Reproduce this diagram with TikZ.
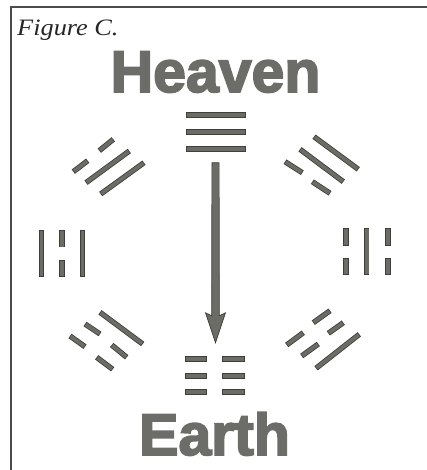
\documentclass[tikz,border=0pt]{standalone}
\usepackage{fontspec}
\setmainfont{Liberation Serif}
\newfontfamily\boldsans{Liberation Sans Bold}[FakeBold=3]
\usetikzlibrary{calc}
\definecolor{barfill}{RGB}{108,108,102}
\definecolor{barout}{RGB}{62,62,58}
\definecolor{wordgray}{RGB}{108,108,104}
\definecolor{framegray}{RGB}{75,75,72}
\begin{document}
\begin{tikzpicture}[x=1pt,y=-1pt,
  bar/.style={line width=5.4pt, draw=barout, postaction={draw=barfill, line width=3.8pt, shorten <=0.8pt, shorten >=0.8pt}},
  word/.style={inner sep=0pt, anchor=base, text=wordgray, font=\boldsans\fontsize{59}{60}\selectfont},
  tri/.style={inner sep=0pt, draw=none}]
\useasboundingbox (0,0) rectangle (427,470);
\draw[framegray, line width=2pt] (427,7) -- (11,7) -- (11,470);
\node[anchor=base west, inner sep=0pt, text=black!85, font=\itshape\fontsize{23.5}{25}\selectfont] (title) at (17,36) {\scalebox{1.12}[1]{Figure C.}};
\node[word] (heaven) at (215.5,92) {Heaven};
\node[word] (earth) at (214.5,455) {Earth};
% Heaven trigram
\node[tri, minimum width=60pt, minimum height=39pt] (qian) at (216,132) {};
\draw[bar] (186,115) -- (246,115);
\draw[bar] (186,132) -- (246,132);
\draw[bar] (186,149) -- (246,149);
% Earth trigram
\node[tri, minimum width=60pt, minimum height=39pt] (kun) at (215,375.5) {};
\foreach \yy in {359,376,392} {
  \draw[bar] (185,\yy) -- (207,\yy);
  \draw[bar] (222,\yy) -- (245,\yy);
}
% Li (left)
\draw[bar] (41.5,230) -- (41.5,276.7);
\draw[bar] (62,230) -- (62,247.3);
\draw[bar] (62,260) -- (62,276.7);
\draw[bar] (82.5,230) -- (82.5,276.7);
% Kan (right)
\draw[bar] (346,228.3) -- (346,245.7);
\draw[bar] (346,257.7) -- (346,275);
\draw[bar] (366.7,228.3) -- (366.7,275);
\draw[bar] (388,228.3) -- (388,245.7);
\draw[bar] (388,257.7) -- (388,275);
% Dui (upper left)
\draw[bar] (73.3,171.7) -- (87.7,160.7);
\draw[bar] (99.3,150.7) -- (113.3,139.3);
\draw[bar] (86,182.7) -- (129.3,151);
\draw[bar] (100.7,194) -- (144,162.7);
% Xun (upper right)
\draw[bar] (314,136.7) -- (358.3,169.3);
\draw[bar] (300,149.3) -- (343.3,181.7);
\draw[bar] (285,161.7) -- (302.3,172.7);
\draw[bar] (312.3,181.7) -- (330,193.3);
% Zhen (lower left)
\draw[bar] (100,312.3) -- (142.7,344);
\draw[bar] (85,324) -- (100,334);
\draw[bar] (111.7,345) -- (126.7,357.3);
\draw[bar] (70,336) -- (85,346.7);
\draw[bar] (96.7,357.3) -- (112.7,369.3);
% Gen (lower right)
\draw[bar] (286.7,345) -- (303.3,332.7);
\draw[bar] (313.3,322.7) -- (330,310.7);
\draw[bar] (301.7,356) -- (318.3,344);
\draw[bar] (328.3,333.3) -- (343.3,322.7);
\draw[bar] (316,368.3) -- (359.3,334.3);
% Arrow from Heaven trigram to Earth trigram
\coordinate (atop) at ($(qian.south)+(-0.5,11)$);
\coordinate (atip) at ($(kun.north)+(0.5,-13)$);
\filldraw[fill=barfill, draw=barout, line width=0.7pt]
  ($(atop)+(-3.6,0)$) -- ($(atop)+(3.6,0)$) -- ($(atip)+(3.8,-27)$) -- ($(atip)+(10,-30)$) -- (atip)
  -- ($(atip)+(-10,-30)$) -- ($(atip)+(-3.8,-27)$) -- cycle;
\end{tikzpicture}
\end{document}
